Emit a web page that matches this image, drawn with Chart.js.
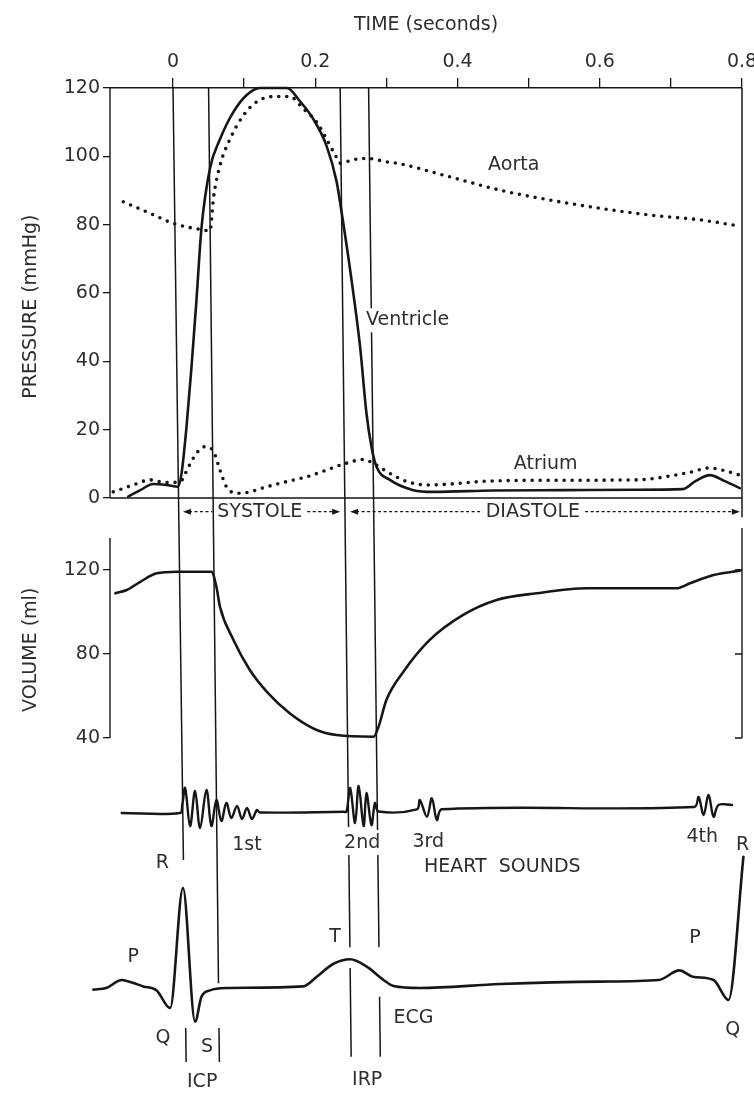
<!DOCTYPE html>
<html>
<head>
<meta charset="utf-8">
<script src="https://cdn.jsdelivr.net/npm/chart.js@4.4.1/dist/chart.umd.min.js"></script>
<style>
  html, body { margin: 0; padding: 0; background: #fff; }
  #wrap { width: 754px; height: 1094px; position: relative; }
</style>
</head>
<body>
<div id="wrap"><canvas id="wiggers"></canvas></div>
<script>
// ---- ticks ----
const timeTicks = [0, 0.1, 0.2, 0.3, 0.4, 0.5, 0.6, 0.7, 0.8];
const timeTickLabels = ['0', '0.2', '0.4', '0.6', '0.8'];
const pressureTicks = [0, 20, 40, 60, 80, 100, 120];
const volumeTicks = [40, 80, 120];

// ---- pressure (mmHg) ----
const ventricleT = [-0.063, -0.046, -0.028, -0.009, 0.007, 0.012, 0.019, 0.026, 0.033, 0.040, 0.052, 0.066, 0.085, 0.104, 0.122, 0.160, 0.179, 0.197, 0.216, 0.230, 0.239, 0.251, 0.263, 0.272, 0.279, 0.286, 0.305, 0.338, 0.366, 0.45, 0.55, 0.65, 0.717, 0.735, 0.755, 0.775, 0.797];
const ventricleP = [0.4, 2.3, 4.1, 3.8, 3.3, 7.2, 20.9, 38.4, 58, 79, 96.5, 105, 113, 118, 120, 120, 116, 111, 103, 92.6, 81, 63.8, 44.3, 24.8, 15, 9.2, 5.3, 2.3, 1.8, 2.2, 2.3, 2.4, 2.6, 5, 6.7, 5, 2.9];

const aortaT = [-0.070, -0.032, 0.000, 0.038, 0.052, 0.057, 0.066, 0.080, 0.099, 0.118, 0.141, 0.164, 0.183, 0.202, 0.216, 0.228, 0.235, 0.253, 0.272, 0.300, 0.319, 0.389, 0.460, 0.530, 0.600, 0.671, 0.741, 0.788];
const aortaP = [86.7, 83.3, 80.4, 78.6, 78.2, 88, 97.3, 105, 112, 116, 117.5, 117.5, 114, 110, 105, 100.4, 98, 99, 99.4, 98.4, 97.8, 94, 90.1, 87.2, 84.8, 82.8, 81.4, 79.9];

const atriumT = [-0.084, -0.056, -0.032, -0.009, 0.010, 0.022, 0.033, 0.045, 0.057, 0.066, 0.075, 0.090, 0.104, 0.132, 0.160, 0.188, 0.216, 0.244, 0.268, 0.282, 0.305, 0.329, 0.357, 0.45, 0.55, 0.65, 0.722, 0.755, 0.775, 0.797];
const atriumP = [1.8, 3.8, 5.3, 4.5, 4.8, 9.2, 13.1, 15, 13.6, 8.2, 3.3, 1.4, 1.6, 3.3, 4.8, 6.2, 8.2, 10.2, 11.3, 10.1, 7.2, 4.8, 3.8, 5, 5.2, 5.3, 7.3, 8.8, 8, 6.7];

// ---- ventricular volume (ml) ----
const volumeT = [-0.081, -0.065, -0.046, -0.023, 0.005, 0.054, 0.061, 0.066, 0.085, 0.108, 0.132, 0.164, 0.202, 0.230, 0.282, 0.289, 0.300, 0.324, 0.361, 0.408, 0.455, 0.511, 0.582, 0.652, 0.708, 0.727, 0.760, 0.797];
const volumeV = [108.9, 110.5, 114.4, 118.4, 119.2, 119.2, 112, 102.5, 86.7, 72.4, 62, 51.8, 43.8, 41.4, 40.6, 45.4, 58.1, 71.6, 86.7, 98.6, 105.7, 108.9, 111.3, 111.3, 111.3, 113.7, 117.6, 119.7];

// ---- heart sounds (arbitrary amplitude) ----
const soundT = [-0.072, 0.010, 0.013, 0.017, 0.024, 0.031, 0.038, 0.047, 0.054, 0.061, 0.068, 0.075, 0.082, 0.090, 0.097, 0.104, 0.111, 0.118, 0.122,
  0.240, 0.244, 0.249, 0.256, 0.261, 0.268, 0.272, 0.279, 0.284, 0.289,
  0.343, 0.347, 0.357, 0.364, 0.371, 0.378,
  0.733, 0.739, 0.746, 0.753, 0.760, 0.767, 0.786];
const soundA = [0, 0, 8, 25, -13, 22, -15, 23, -13, 13, -8, 10, -5, 7, -6, 5, -6, 3, 0.5,
  1.2, 1.3, 25, -10, 27, -13, 20, -12, 10, 1.5,
  3.7, 13, -3.7, 14.7, -7, 3.7,
  6, 16, -2, 18, -3.7, 8, 8];

// ---- ECG (mV) ----
const ecgT = [-0.112, -0.094, -0.072, -0.058, -0.042, -0.023, -0.004, 0.014, 0.031, 0.040, 0.052, 0.075, 0.183, 0.202, 0.225, 0.249, 0.272, 0.296, 0.310, 0.347, 0.460, 0.600, 0.683, 0.712, 0.731, 0.760, 0.781, 0.802];
const ecgV = [-0.02, 0, 0.10, 0.07, 0.02, -0.03, -0.25, 1.25, -0.42, -0.11, -0.03, 0.0, 0.02, 0.14, 0.30, 0.36, 0.27, 0.10, 0.025, 0.0, 0.05, 0.08, 0.10, 0.22, 0.14, 0.10, -0.15, 1.64];

// ---- events: vertical marker lines (time at top / bottom of plot, slightly slanted) ----
const eventLines = [
  { tTop: 0.000, tBottom: 0.019, spans: [[['yP', 120], ['yS', -47]], [['yE', -0.5], ['yE', -0.925]]] },
  { tTop: 0.050, tBottom: 0.0656, spans: [[['yP', 120], ['yE', 0.06]], [['yE', -0.5], ['yE', -0.925]]] },
  { tTop: 0.235, tBottom: 0.251, spans: [[['yP', 120], ['yS', -14]], [['yS', -42], ['yE', 0.51]], [['yE', 0.25], ['yE', -0.86]]] },
  { tTop: 0.275, tBottom: 0.292, spans: [[['yP', 120], ['yP', 55.5]], [['yP', 48.5], ['yS', -17]], [['yS', -42], ['yE', 0.51]], [['yE', -0.11], ['yE', -0.86]]] },
  { tTop: 0.800, tBottom: 0.800, spans: [[['yP', 120], ['yP', -5.6]]] }
];

const phases = [
  { label: 'SYSTOLE', from: 0.014, to: 0.235, textT: 0.122 },
  { label: 'DIASTOLE', from: 0.249, to: 0.797, textT: 0.506 }
];

const labels = [
  ['Aorta', 0.479, 'yP', 97.5, 'center'],
  ['Ventricle', 0.2714, 'yP', 52, 'left'],
  ['Atrium', 0.524, 'yP', 10, 'center'],
  ['1st', 0.104, 'yS', -32, 'center'],
  ['2nd', 0.266, 'yS', -30, 'center'],
  ['3rd', 0.359, 'yS', -29, 'center'],
  ['4th', 0.744, 'yS', -24, 'center'],
  ['HEART  SOUNDS', 0.463, 'yS', -54, 'center'],
  ['R', -0.015, 'yE', 1.56, 'center'],
  ['P', -0.056, 'yE', 0.39, 'center'],
  ['Q', -0.014, 'yE', -0.625, 'center'],
  ['S', 0.048, 'yE', -0.74, 'center'],
  ['ICP', 0.041, 'yE', -1.175, 'center'],
  ['T', 0.228, 'yE', 0.64, 'center'],
  ['IRP', 0.273, 'yE', -1.15, 'center'],
  ['ECG', 0.338, 'yE', -0.375, 'center'],
  ['P', 0.734, 'yE', 0.625, 'center'],
  ['Q', 0.787, 'yE', -0.525, 'center'],
  ['R', 0.801, 'yE', 1.79, 'center']
];

// ---- layout ----
const AREA_TOP = 88, AREA_BOTTOM = 1090, AREA_LEFT = 110;
const T_MIN = -0.0886, T_MAX = 0.8;
const TEXT = '#2e2e2e', LINE = '#161616';
const FONT = "'DejaVu Sans', sans-serif";

// axis range that puts value vA at pixel pxA and vB at pxB
function rangeFrom(vA, pxA, vB, pxB) {
  const k = (pxB - pxA) / (vA - vB);
  return { min: vB - (AREA_BOTTOM - pxB) / k, max: vA + (pxA - AREA_TOP) / k };
}
const pRange = rangeFrom(120, 88, 0, 498);
const vRange = rangeFrom(120, 570, 40, 738);
const sRange = rangeFrom(20, 793, 0, 813);
const eRange = rangeFrom(1, 908, 0, 988);

const pts = (ts, vs) => ts.map((t, i) => ({ x: t, y: vs[i] }));

function solid(data, axis, extra) {
  return Object.assign({ data, yAxisID: axis, borderColor: LINE, borderWidth: 2.6, pointRadius: 0, fill: false,
    clip: false, cubicInterpolationMode: 'monotone', borderJoinStyle: 'round', borderCapStyle: 'round' }, extra || {});
}
function dotted(data, axis) {
  return solid(data, axis, { borderDash: [0, 8], borderWidth: 3.6 });
}

const overlay = {
  id: 'overlay',
  afterLayout(chart) {
    // volume axis sits on the same left edge as the pressure axis; give its labels room
    const a = chart.scales.yV;
    a.left = 0;
    a.width = a.right;
  },
  beforeDatasetsDraw(chart) {
    const ctx = chart.ctx, x = chart.scales.x, s = chart.scales;
    const { top, bottom } = chart.chartArea;
    const py = (ref) => s[ref[0]].getPixelForValue(ref[1]);
    ctx.save();
    ctx.strokeStyle = LINE;
    ctx.lineCap = 'butt';

    // panel frames
    ctx.lineWidth = 1.4;
    const xl = x.getPixelForValue(T_MIN), xr = x.getPixelForValue(T_MAX);
    ctx.beginPath();
    ctx.moveTo(xl, s.yP.getPixelForValue(120)); ctx.lineTo(xl, s.yP.getPixelForValue(0));
    ctx.moveTo(xl, s.yP.getPixelForValue(0)); ctx.lineTo(xr, s.yP.getPixelForValue(0));
    ctx.moveTo(xl, s.yV.getPixelForValue(135.2)); ctx.lineTo(xl, s.yV.getPixelForValue(40));
    ctx.moveTo(xr, s.yV.getPixelForValue(140)); ctx.lineTo(xr, s.yV.getPixelForValue(40));
    volumeTicks.forEach(v => {
      const yy = s.yV.getPixelForValue(v);
      ctx.moveTo(xr - 7, yy); ctx.lineTo(xr, yy);
    });
    ctx.stroke();

    // event lines
    ctx.lineWidth = 1.5;
    eventLines.forEach(ev => {
      const xAt = (yy) => x.getPixelForValue(ev.tTop + (ev.tBottom - ev.tTop) * (yy - top) / (bottom - top));
      ev.spans.forEach(sp => {
        const y1 = py(sp[0]), y2 = py(sp[1]);
        ctx.beginPath();
        ctx.moveTo(xAt(y1), y1);
        ctx.lineTo(xAt(y2), y2);
        ctx.stroke();
      });
    });

    // systole / diastole arrows
    ctx.font = '19px ' + FONT;
    const yy = s.yP.getPixelForValue(-4);
    phases.forEach(ph => {
      const x1 = x.getPixelForValue(ph.from), x2 = x.getPixelForValue(ph.to);
      const xc = x.getPixelForValue(ph.textT);
      const w = ctx.measureText(ph.label).width;
      ctx.lineWidth = 1.1;
      ctx.setLineDash([3, 2.5]);
      ctx.beginPath();
      ctx.moveTo(x1 + 6, yy); ctx.lineTo(xc - w / 2 - 5, yy);
      ctx.moveTo(xc + w / 2 + 5, yy); ctx.lineTo(x2 - 6, yy);
      ctx.stroke();
      ctx.setLineDash([]);
      ctx.fillStyle = LINE;
      ctx.beginPath();
      ctx.moveTo(x1, yy); ctx.lineTo(x1 + 8, yy - 3); ctx.lineTo(x1 + 8, yy + 3); ctx.closePath();
      ctx.moveTo(x2, yy); ctx.lineTo(x2 - 8, yy - 3); ctx.lineTo(x2 - 8, yy + 3); ctx.closePath();
      ctx.fill();
      ctx.fillStyle = TEXT;
      ctx.textAlign = 'center';
      ctx.textBaseline = 'middle';
      ctx.fillText(ph.label, xc, yy);
    });
    ctx.restore();
  },
  afterDatasetsDraw(chart) {
    const ctx = chart.ctx, x = chart.scales.x, s = chart.scales;
    ctx.save();
    ctx.fillStyle = TEXT;
    ctx.textBaseline = 'middle';
    ctx.font = '19px ' + FONT;
    labels.forEach(([txt, t, axis, v, align]) => {
      ctx.textAlign = align;
      ctx.fillText(txt, x.getPixelForValue(t), s[axis].getPixelForValue(v));
    });

    // rotated axis titles
    ctx.textAlign = 'center';
    const titles = [['PRESSURE (mmHg)', s.yP.getPixelForValue(56)], ['VOLUME (ml)', s.yV.getPixelForValue(82)]];
    titles.forEach(([txt, yy]) => {
      ctx.save();
      ctx.translate(31, yy);
      ctx.rotate(-Math.PI / 2);
      ctx.fillText(txt, 0, 0);
      ctx.restore();
    });
    ctx.restore();
  }
};

Chart.defaults.font.family = FONT;
Chart.defaults.color = TEXT;

const gridOpts = { drawOnChartArea: false, drawTicks: true, tickLength: 7, color: LINE, lineWidth: 1.3 };
const noPad = (a) => { a.paddingLeft = 0; a.paddingRight = 0; a.paddingTop = 0; a.paddingBottom = 0; };

new Chart(document.getElementById('wiggers'), {
  type: 'line',
  data: {
    datasets: [
      dotted(pts(aortaT, aortaP), 'yP'),
      dotted(pts(atriumT, atriumP), 'yP'),
      solid(pts(ventricleT, ventricleP), 'yP'),
      solid(pts(volumeT, volumeV), 'yV'),
      solid(pts(soundT, soundA), 'yS', { cubicInterpolationMode: 'default', tension: 0.35, borderWidth: 2.4 }),
      solid(pts(ecgT, ecgV), 'yE')
    ]
  },
  options: {
    responsive: true,
    maintainAspectRatio: false,
    animation: false,
    events: [],
    layout: { padding: { top: 0, left: 0, right: 12, bottom: 4 } },
    plugins: { legend: { display: false }, tooltip: { enabled: false } },
    scales: {
      x: {
        // range set after data limits so traces that start left of the axis are still drawn
        type: 'linear', position: 'top', bounds: 'data',
        afterDataLimits: (a) => { a.min = T_MIN; a.max = T_MAX; },
        afterBuildTicks: (a) => { a.ticks = timeTicks.map(v => ({ value: v })); },
        afterFit: (a) => { a.height = AREA_TOP; noPad(a); },
        title: { display: true, text: 'TIME (seconds)', color: TEXT, font: { size: 19 }, padding: { top: 14, bottom: 0 } },
        ticks: {
          autoSkip: false, maxRotation: 0, padding: 5, font: { size: 19 },
          callback: (v) => { const i = Math.round(v * 10); return i % 2 === 0 ? timeTickLabels[i / 2] : ''; }
        },
        grid: Object.assign({}, gridOpts, { tickLength: 10 }),
        border: { display: true, color: LINE, width: 1.4 }
      },
      yP: {
        type: 'linear', position: 'left', weight: 2, min: pRange.min, max: pRange.max,
        afterFit: (a) => { a.width = AREA_LEFT; noPad(a); },
        afterBuildTicks: (a) => { a.ticks = pressureTicks.map(v => ({ value: v })); },
        ticks: { padding: 3, font: { size: 19 } },
        grid: gridOpts,
        border: { display: false }
      },
      yV: {
        type: 'linear', position: 'left', weight: 1, min: vRange.min, max: vRange.max,
        afterFit: (a) => { a.width = 0; noPad(a); },
        afterBuildTicks: (a) => { a.ticks = volumeTicks.map(v => ({ value: v })); },
        ticks: { padding: 3, font: { size: 19 } },
        grid: gridOpts,
        border: { display: false }
      },
      yS: { type: 'linear', display: false, weight: 0, min: sRange.min, max: sRange.max },
      yE: { type: 'linear', display: false, weight: 0, min: eRange.min, max: eRange.max }
    }
  },
  plugins: [overlay]
});
</script>
</body>
</html>
